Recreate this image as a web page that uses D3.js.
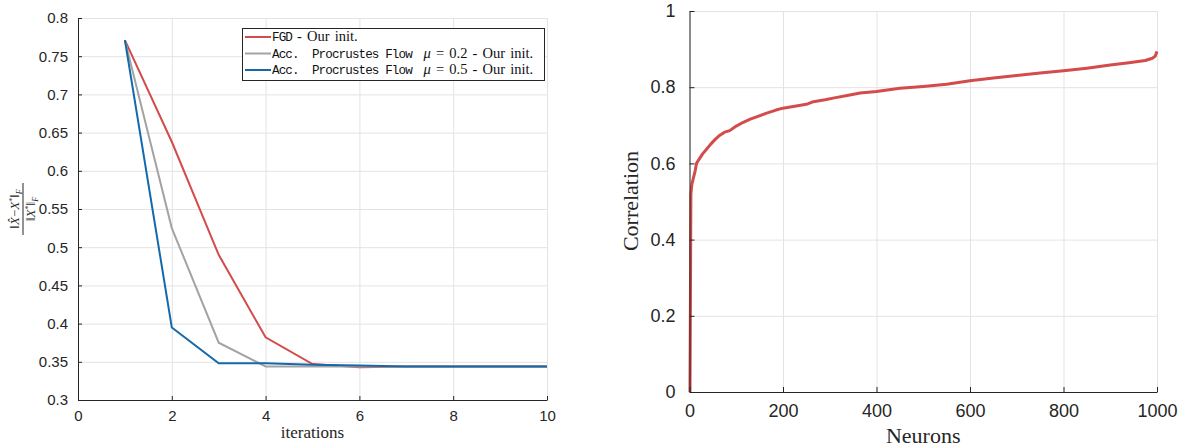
<!DOCTYPE html>
<html>
  <head>
    <meta charset="utf-8">
    <script src="https://d3js.org/d3.v7.min.js"></script>
    <style>
      body { margin: 0; background: #fff; }
      svg { display: block; }
      .tick text { font-family: 'Liberation Sans', Arial, sans-serif; fill: #262626; }
      .grid line { stroke: #e3e3e3; stroke-width: 1; }
      .grid path { stroke: none; }
      .axis path, .axis line { stroke: #262626; }
      .serif { font-family: 'Liberation Serif', 'DejaVu Serif', serif; fill: #262626; }
      .mono { font-family: 'Liberation Mono', 'DejaVu Sans Mono', monospace; }
    </style>
  </head>
  <body>
    <script>

      // left panel data: relative error per iteration
      var iterations = [1, 2, 3, 4, 5, 6, 7, 8, 9, 10];
      var fgd   = [0.771, 0.638, 0.490, 0.382, 0.347, 0.343, 0.344, 0.344, 0.344, 0.344];
      var acc02 = [0.771, 0.525, 0.375, 0.344, 0.344, 0.344, 0.344, 0.344, 0.344, 0.344];
      var acc05 = [0.771, 0.395, 0.348, 0.348, 0.346, 0.345, 0.344, 0.344, 0.344, 0.344];
      var seriesColors = ["#d44b4b", "#a3a3a3", "#1469ac"];
      var leftXTicks = [0, 2, 4, 6, 8, 10];
      var leftYTicks = [0.3, 0.35, 0.4, 0.45, 0.5, 0.55, 0.6, 0.65, 0.7, 0.75, 0.8];

      // right panel data: sorted correlation per neuron
      var neurons = [1, 2, 3, 5, 8, 12, 15, 20, 28, 35, 45, 55, 65, 75, 86, 100, 115, 130, 145, 165,
                     185, 200, 225, 250, 265, 290, 310, 340, 365, 400, 450, 500, 550, 600, 650, 700,
                     750, 800, 850, 900, 940, 975, 990, 996, 1000];
      var correlation = [0, 0.25, 0.52, 0.545, 0.56, 0.58, 0.60, 0.61, 0.625, 0.635, 0.65, 0.663, 0.674, 0.682, 0.686, 0.698, 0.708, 0.716, 0.723, 0.732,
                     0.740, 0.745, 0.750, 0.755, 0.762, 0.767, 0.772, 0.779, 0.785, 0.789, 0.797, 0.802, 0.808, 0.817, 0.824, 0.831,
                     0.837, 0.843, 0.850, 0.858, 0.864, 0.870, 0.876, 0.881, 0.894];
      var rightXTicks = [0, 200, 400, 600, 800, 1000];
      var rightYTicks = [0, 0.2, 0.4, 0.6, 0.8, 1];

      var w = 1182, h = 448;
      var svg = d3.select("body").append("svg")
          .attr("width", w)
          .attr("height", h);

      // ---------- left panel ----------
      var L = {left: 78, right: 547, top: 18, bottom: 400};
      var xL = d3.scaleLinear().domain([0, 10]).range([L.left, L.right]);
      var yL = d3.scaleLinear().domain([0.3, 0.8]).range([L.bottom, L.top]);

      svg.append("g").attr("class", "grid")
          .attr("transform", "translate(0," + L.bottom + ")")
          .call(d3.axisBottom(xL).tickValues(leftXTicks).tickSize(-(L.bottom - L.top)).tickFormat(""));
      svg.append("g").attr("class", "grid")
          .attr("transform", "translate(" + L.left + ",0)")
          .call(d3.axisLeft(yL).tickValues(leftYTicks).tickSize(-(L.right - L.left)).tickFormat(""));

      var series = [fgd, acc02, acc05];
      var lineL = d3.line()
          .x(function(d, i) { return xL(iterations[i]); })
          .y(function(d) { return yL(d); });
      series.forEach(function(s, k) {
        svg.append("path")
            .datum(s)
            .attr("fill", "none")
            .attr("stroke", seriesColors[k])
            .attr("stroke-width", 2)
            .attr("d", lineL);
      });

      var xAxisL = svg.append("g").attr("class", "axis")
          .attr("transform", "translate(0," + L.bottom + ")")
          .call(d3.axisBottom(xL).tickValues(leftXTicks).tickSizeInner(-4).tickSizeOuter(0).tickPadding(10));
      xAxisL.selectAll("text").style("font-size", "15px");
      var yAxisL = svg.append("g").attr("class", "axis")
          .attr("transform", "translate(" + L.left + ",0)")
          .call(d3.axisLeft(yL).tickValues(leftYTicks).tickSizeInner(-4).tickSizeOuter(0).tickPadding(10)
                .tickFormat(d3.format(".2~f")));
      yAxisL.selectAll("text").style("font-size", "15px");

      svg.append("text").attr("class", "serif")
          .attr("x", (L.left + L.right) / 2).attr("y", 438)
          .attr("text-anchor", "middle")
          .style("font-size", "17px")
          .text("iterations");

      // y label: ||X^ - X*||_F / ||X*||_F
      var frac = svg.append("g").attr("transform", "translate(23,209) rotate(-90)");
      frac.append("line").attr("x1", -26).attr("x2", 26).attr("y1", 0).attr("y2", 0)
          .attr("stroke", "#262626").attr("stroke-width", 1);
      var num = frac.append("text").attr("class", "serif").attr("y", -4)
          .attr("text-anchor", "middle").style("font-size", "13px");
      num.append("tspan").text("‖");
      num.append("tspan").style("font-style", "italic").text("X̂");
      num.append("tspan").text("−");
      num.append("tspan").style("font-style", "italic").text("X");
      num.append("tspan").attr("dy", -4).style("font-size", "8px").text("*");
      num.append("tspan").attr("dy", 4).text("‖");
      num.append("tspan").attr("dy", 3).style("font-size", "8px").style("font-style", "italic").text("F");
      var den = frac.append("text").attr("class", "serif").attr("y", 12)
          .attr("text-anchor", "middle").style("font-size", "13px");
      den.append("tspan").text("‖");
      den.append("tspan").style("font-style", "italic").text("X");
      den.append("tspan").attr("dy", -4).style("font-size", "8px").text("*");
      den.append("tspan").attr("dy", 4).text("‖");
      den.append("tspan").attr("dy", 3).style("font-size", "8px").style("font-style", "italic").text("F");

      // legend
      var leg = svg.append("g");
      leg.append("rect")
          .attr("x", 242.5).attr("y", 28.5).attr("width", 302).attr("height", 52)
          .attr("fill", "#fff").attr("stroke", "#262626").attr("stroke-width", 1);
      var legRows = [37, 53.5, 70];
      var legLabels = [
        [["mono", "FGD"], ["serif", " - Our init."]],
        [["mono", "Acc.  Procrustes Flow "], ["it", " μ"], ["serif", " = 0.2 - Our init."]],
        [["mono", "Acc.  Procrustes Flow "], ["it", " μ"], ["serif", " = 0.5 - Our init."]]
      ];
      legRows.forEach(function(yy, k) {
        leg.append("line").attr("x1", 245).attr("x2", 271).attr("y1", yy).attr("y2", yy)
            .attr("stroke", seriesColors[k]).attr("stroke-width", 2);
        var t = leg.append("text").attr("x", 272).attr("y", yy + 4)
            .style("white-space", "pre").attr("fill", "#111");
        legLabels[k].forEach(function(p) {
          var ts = t.append("tspan").text(p[1]);
          if (p[0] === "mono") ts.attr("class", "mono").style("font-size", "12.6px").style("letter-spacing", "-0.9px");
          else ts.style("font-family", "'Liberation Serif', serif").style("font-size", "14.5px")
                 .style("letter-spacing", "0px").style("word-spacing", "1.5px");
          if (p[0] === "it") ts.style("font-style", "italic");
        });
      });

      // ---------- right panel ----------
      var R = {left: 689.5, right: 1157, top: 11, bottom: 392};
      var xR = d3.scaleLinear().domain([0, 1000]).range([R.left, R.right]);
      var yR = d3.scaleLinear().domain([0, 1]).range([R.bottom, R.top]);

      svg.append("g").attr("class", "grid")
          .attr("transform", "translate(0," + R.bottom + ")")
          .call(d3.axisBottom(xR).tickValues(rightXTicks).tickSize(-(R.bottom - R.top)).tickFormat(""));
      svg.append("g").attr("class", "grid")
          .attr("transform", "translate(" + R.left + ",0)")
          .call(d3.axisLeft(yR).tickValues(rightYTicks).tickSize(-(R.right - R.left)).tickFormat(""));

      var lineR = d3.line()
          .x(function(d, i) { return xR(neurons[i]); })
          .y(function(d) { return yR(d); });
      svg.append("path")
          .datum(correlation)
          .attr("fill", "none")
          .attr("stroke", "#d44b4b")
          .attr("stroke-width", 3)
          .attr("stroke-linejoin", "round")
          .attr("d", lineR);

      var xAxisR = svg.append("g").attr("class", "axis")
          .attr("transform", "translate(0," + R.bottom + ")")
          .call(d3.axisBottom(xR).tickValues(rightXTicks).tickSizeInner(-5).tickSizeOuter(0).tickPadding(12)
                .tickFormat(d3.format("d")));
      xAxisR.selectAll("text").style("font-size", "18px");
      var yAxisR = svg.append("g").attr("class", "axis")
          .attr("transform", "translate(" + R.left + ",0)")
          .call(d3.axisLeft(yR).tickValues(rightYTicks).tickSizeInner(-5).tickSizeOuter(0).tickPadding(14)
                .tickFormat(d3.format("~g")));
      yAxisR.selectAll("text").style("font-size", "18px");

      svg.append("text").attr("class", "serif")
          .attr("x", (R.left + R.right) / 2).attr("y", 443)
          .attr("text-anchor", "middle")
          .style("font-size", "22px")
          .text("Neurons");
      svg.append("text").attr("class", "serif")
          .attr("transform", "translate(638,201) rotate(-90)")
          .attr("text-anchor", "middle")
          .style("font-size", "22px")
          .text("Correlation");

    </script>
  </body>
</html>
